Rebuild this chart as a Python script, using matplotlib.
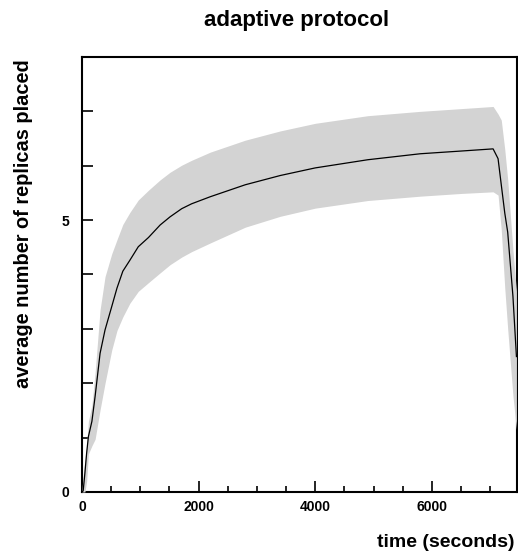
#!/usr/bin/env python3

# THIRD PARTY LIBRARY IMPORTS -------------------------------------------------

import matplotlib
matplotlib.use('Agg')
import matplotlib.pyplot as plt
from matplotlib.ticker import MultipleLocator, FuncFormatter


# DATA ------------------------------------------------------------------------

time_s = [0, 20, 50, 80, 110, 170, 225, 310, 395, 510, 600, 700, 820, 965,
          1140, 1340, 1510, 1710, 1880, 2200, 2800, 3400, 4000, 4900, 5800,
          6500, 7050, 7135, 7190, 7250, 7300, 7390, 7450]

mean_replicas = [0.0, 0.02, 0.35, 0.72, 1.02, 1.3, 1.76, 2.55, 2.98, 3.41,
                 3.75, 4.06, 4.26, 4.51, 4.68, 4.91, 5.06, 5.21, 5.30, 5.43,
                 5.65, 5.82, 5.96, 6.11, 6.22, 6.27, 6.31, 6.13, 5.65, 5.13,
                 4.78, 3.6, 2.49]

upper_replicas = [0.05, 0.3, 0.6, 0.85, 1.3, 1.6, 2.2, 3.35, 3.96, 4.38,
                  4.64, 4.92, 5.14, 5.37, 5.55, 5.74, 5.88, 6.01, 6.1, 6.25,
                  6.47, 6.64, 6.78, 6.92, 7.0, 7.05, 7.09, 6.95, 6.84, 6.3,
                  5.75, 4.45, 3.7]

lower_replicas = [0.0, 0.0, 0.0, 0.2, 0.7, 0.85, 0.97, 1.51, 2.0, 2.61,
                  2.97, 3.22, 3.47, 3.69, 3.85, 4.03, 4.18, 4.32, 4.42, 4.58,
                  4.87, 5.07, 5.22, 5.36, 5.44, 5.49, 5.52, 5.46, 4.82, 3.75,
                  3.0, 1.77, 1.15]

y_labels = {0: '0', 5: '5'}


# PLOT ------------------------------------------------------------------------

plt.rcParams['font.family'] = ['Liberation Sans', 'DejaVu Sans']
plt.rcParams['font.weight'] = 'bold'

fig = plt.figure(figsize=(5.18, 5.51), dpi=100)
ax = fig.add_axes([0.1583, 0.1071, 0.8398, 0.7895])

# spread of the runs, then the mean on top
ax.fill_between(time_s, lower_replicas, upper_replicas,
                color='#d3d3d3', linewidth=0, zorder=2)
ax.plot(time_s, mean_replicas, color='black', linewidth=0.9, zorder=3)

ax.set_xlim(0, 7460)
ax.set_ylim(0, 8)

ax.xaxis.set_major_locator(MultipleLocator(2000))
ax.xaxis.set_minor_locator(MultipleLocator(500))
ax.yaxis.set_major_locator(MultipleLocator(1))
ax.yaxis.set_major_formatter(
    FuncFormatter(lambda v, pos: y_labels.get(int(round(v)), '')))

ax.tick_params(which='both', direction='in', top=False, right=False,
               labelsize=10, width=1.2)
ax.tick_params(axis='x', which='major', length=8, pad=6)
ax.tick_params(axis='x', which='minor', length=4)
ax.tick_params(axis='y', which='major', length=8, pad=9)
for lab in ax.get_xticklabels() + ax.get_yticklabels():
    lab.set_fontweight('bold')

for side, spine in ax.spines.items():
    spine.set_linewidth(1.5)
    spine.set_zorder(1)

fig.text(0.572, 0.962, 'adaptive protocol', ha='center', va='center',
         fontsize=16, fontweight='bold')
fig.text(0.046, 0.595, 'average number of replicas placed', rotation=90,
         ha='center', va='center', fontsize=14.4, fontweight='bold')
fig.text(0.994, 0.016, 'time (seconds)', ha='right', va='center',
         fontsize=14, fontweight='bold')

fig.savefig('out.png', dpi=100)
